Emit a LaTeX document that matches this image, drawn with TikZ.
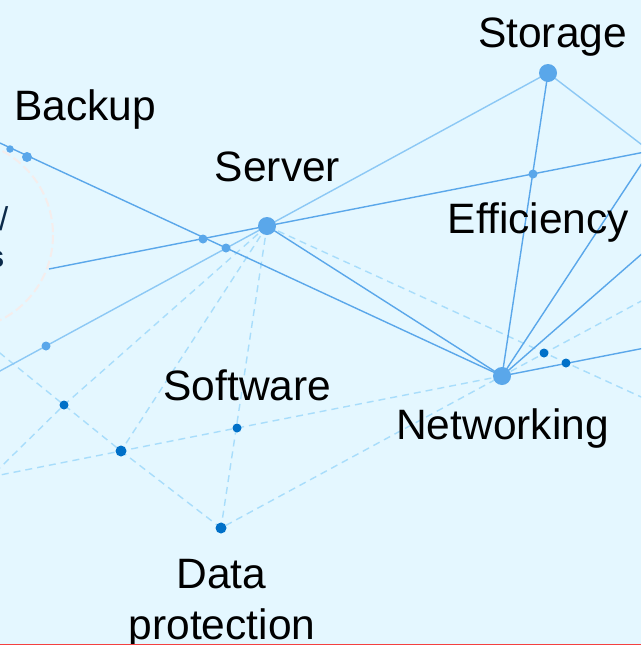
\documentclass[tikz,border=0pt]{standalone}
\usepackage{fontspec}
\setmainfont{Liberation Sans}
\definecolor{bgc}{HTML}{E4F7FF}
\definecolor{midb}{HTML}{5AA7EA}
\definecolor{lightb}{HTML}{8CC8F5}
\definecolor{dashb}{HTML}{A8DDFB}
\definecolor{darkb}{HTML}{0070C8}
\definecolor{navy}{HTML}{0B2A4A}
\definecolor{palec}{HTML}{F5EDEC}
\definecolor{redline}{HTML}{F44040}
\tikzset{
  bigdot/.style={circle,fill=midb,inner sep=0pt,minimum size=18pt},
  middot/.style={circle,fill=midb,inner sep=0pt,minimum size=9pt},
  darkdot/.style={circle,fill=darkb,inner sep=0pt,minimum size=9pt},
  solidmid/.style={draw=midb,line width=1.4pt},
  solidlight/.style={draw=lightb,line width=1.4pt},
  dashlight/.style={draw=dashb,line width=1.4pt,dash pattern=on 7pt off 5pt},
  lbl/.style={font=\fontsize{42.5}{46}\selectfont,text=black,anchor=base,inner sep=0pt},
  cutlbl/.style={font=\fontsize{31}{34}\bfseries\selectfont,text=navy,anchor=base east,inner sep=0pt}
}
\begin{document}
\begin{tikzpicture}[x=1pt,y=-1pt]
\useasboundingbox (0,0) rectangle (641,645);
\fill[bgc] (0,0) rectangle (641,645);
\begin{scope}
\clip (0,0) rectangle (641,645);
% free ends beyond the frame
\coordinate (hub) at (650,151);
\coordinate (ltop) at (-10,138.4);
\coordinate (lmid) at (49,269);
\coordinate (llow) at (-10,376.4);
\coordinate (rnet) at (660,345);
\coordinate (rsteep) at (660,238);
\coordinate (rdashup) at (660,291);
\coordinate (rdashdn) at (660,405.6);
\coordinate (ldashup) at (-10,345);
\coordinate (ldashlow) at (-10,477);
\coordinate (ldashmid) at (-10,477.5);
% dashed circle
\draw[draw=palec,line width=2pt,dash pattern=on 9pt off 4pt] (-42,235) circle (95);
% node positions
\coordinate (storage) at (548,73);
\coordinate (server) at (267,226);
\coordinate (net) at (502,376);
\coordinate (a) at (10,149);
\coordinate (b) at (27,157);
\coordinate (c) at (203,239);
\coordinate (d) at (226,248);
\coordinate (e) at (46,346);
\coordinate (f) at (533,174);
\coordinate (g) at (64,405);
\coordinate (h) at (121,451);
\coordinate (i) at (237,428);
\coordinate (j) at (221,528);
\coordinate (k) at (544,353);
\coordinate (m) at (566,363);
% dashed
\draw[dashlight] (server) -- (j);
\draw[dashlight] (server) -- (h);
\draw[dashlight] (server) -- (g) -- (ldashmid);
\draw[dashlight] (server) -- (rdashdn);
\draw[dashlight] (ldashup) -- (g) -- (h) -- (j) -- (net) -- (rdashup);
\draw[dashlight] (ldashlow) -- (h) -- (i) -- (net);
% light solid
\draw[solidlight] (server) -- (llow);
\draw[solidlight] (server) -- (storage) -- (hub);
% mid solid
\draw[solidmid] (ltop) -- (net);
\draw[solidmid] (lmid) -- (server) -- (hub);
\draw[solidmid] (server) -- (net);
\draw[solidmid] (net) -- (storage);
\draw[solidmid] (net) -- (hub);
\draw[solidmid] (net) -- (rsteep);
\draw[solidmid] (net) -- (rnet);
% dots
\node[bigdot] (nstorage) at (storage) {};
\node[bigdot] (nserver) at (server) {};
\node[bigdot] (nnet) at (net) {};
\node[middot,minimum size=7.5pt] (na) at (a) {};
\node[middot,minimum size=10pt] (nb) at (b) {};
\node[middot] (nc) at (c) {};
\node[middot] (nd) at (d) {};
\node[middot] (ne) at (e) {};
\node[middot] (nf) at (f) {};
\node[darkdot] (ng) at (g) {};
\node[darkdot,minimum size=11pt] (nh) at (h) {};
\node[darkdot] (ni) at (i) {};
\node[darkdot,minimum size=11pt] (nj) at (j) {};
\node[darkdot] (nk) at (k) {};
\node[darkdot] (nm) at (m) {};
% labels
\node[lbl] (tstorage) at (552.5,47) {Storage};
\node[lbl] (tbackup) at (85,120) {Backup};
\node[lbl] (tserver) at (277.5,181) {Server};
\node[lbl] (teff) at (538.5,233) {Efficiency};
\node[lbl] (tsoft) at (247.5,400) {Software};
\node[lbl] (tnet) at (502.5,439) {Networking};
\node[lbl] (tdata) at (221.5,588) {Data};
\node[lbl] (tprot) at (222,639) {protection};
\node[cutlbl,font=\fontsize{33}{36}\selectfont] (tslash) at (8.5,230) {/};
\node[cutlbl] (ts) at (4.5,267) {s};
\end{scope}
\draw[draw=redline,line width=1.2pt] (0,644.3) -- (641,644.3);
\end{tikzpicture}
\end{document}
